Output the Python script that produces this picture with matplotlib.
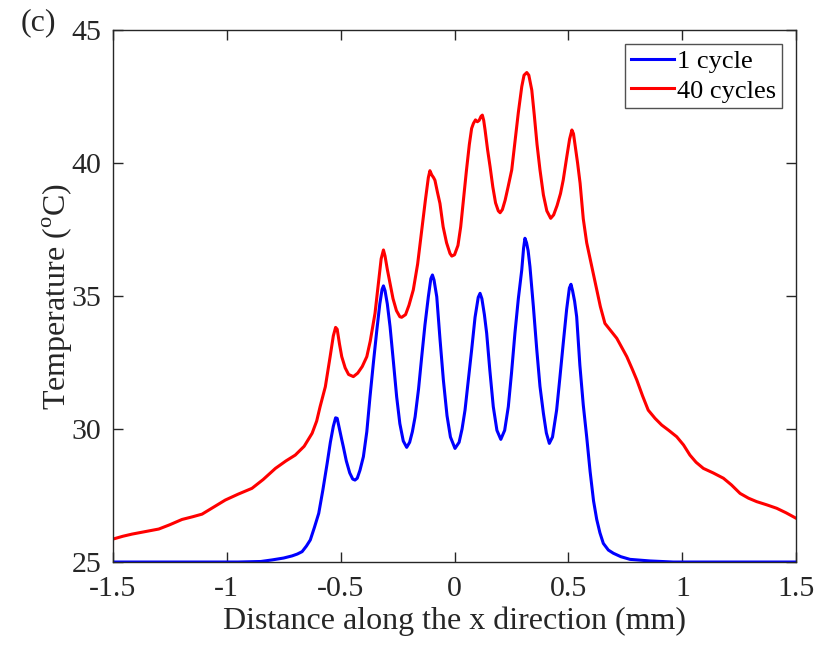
import matplotlib
matplotlib.use('Agg')
import matplotlib.pyplot as plt

plt.rcParams['font.family'] = ['Liberation Serif', 'DejaVu Serif']
plt.rcParams['mathtext.fontset'] = 'custom'
plt.rcParams['mathtext.rm'] = 'Liberation Serif'
plt.rcParams['axes.unicode_minus'] = False

# temperature profile after 1 cycle
x_1 = [-1.5, -0.95, -0.85, -0.8, -0.75, -0.713, -0.69, -0.669, -0.65, -0.633,
       -0.615, -0.596, -0.578, -0.559, -0.545, -0.532, -0.522, -0.515, -0.505, -0.495,
       -0.488, -0.475, -0.46, -0.447, -0.437, -0.427, -0.415, -0.4, -0.385, -0.371,
       -0.356, -0.341, -0.328, -0.318, -0.312, -0.305, -0.295, -0.283, -0.268, -0.254,
       -0.24, -0.225, -0.21, -0.197, -0.185, -0.173, -0.158, -0.144, -0.13, -0.115,
       -0.104, -0.097, -0.09, -0.078, -0.064, -0.049, -0.033, -0.018, 0.002, 0.02,
       0.033, 0.046, 0.06, 0.075, 0.09, 0.104, 0.112, 0.12, 0.131, 0.141,
       0.155, 0.17, 0.186, 0.203, 0.22, 0.236, 0.25, 0.265, 0.28, 0.295,
       0.303, 0.309, 0.316, 0.323, 0.331, 0.346, 0.361, 0.375, 0.39, 0.403,
       0.416, 0.43, 0.448, 0.462, 0.477, 0.492, 0.504, 0.511, 0.518, 0.527,
       0.536, 0.55, 0.565, 0.58, 0.595, 0.61, 0.624, 0.638, 0.653, 0.675,
       0.697, 0.73, 0.77, 0.858, 0.96, 1.5]
t_1 = [25.0, 25.0, 25.02, 25.08, 25.15, 25.23, 25.3, 25.39, 25.6, 25.83,
       26.3, 26.83, 27.7, 28.71, 29.5, 30.1, 30.42, 30.4, 30.0, 29.6,
       29.33, 28.8, 28.35, 28.12, 28.08, 28.15, 28.45, 28.96, 29.9, 31.21,
       32.5, 33.72, 34.7, 35.25, 35.38, 35.2, 34.7, 33.85, 32.5, 31.21,
       30.2, 29.55, 29.31, 29.5, 29.9, 30.46, 31.5, 32.72, 33.9, 34.97,
       35.65, 35.79, 35.6, 34.97, 33.4, 31.84, 30.5, 29.7, 29.27, 29.5,
       30.0, 30.71, 31.8, 32.97, 34.2, 34.95, 35.1, 34.9, 34.3, 33.6,
       32.2, 30.84, 29.95, 29.61, 29.95, 30.84, 32.1, 33.6, 34.9, 35.98,
       36.8, 37.17, 37.0, 36.7, 36.1, 34.6, 32.97, 31.6, 30.59, 29.85,
       29.46, 29.7, 30.71, 31.9, 33.22, 34.5, 35.3, 35.44, 35.2, 34.8,
       34.22, 32.4, 30.9, 29.7, 28.4, 27.3, 26.6, 26.1, 25.7, 25.45,
       25.33, 25.2, 25.1, 25.04, 25.0, 25.0]

# temperature profile after 40 cycles
x_40 = [-1.5, -1.455, -1.415, -1.36, -1.298, -1.25, -1.196, -1.15, -1.108, -1.06,
        -1.006, -0.95, -0.889, -0.84, -0.786, -0.74, -0.699, -0.66, -0.625, -0.605,
        -0.59, -0.567, -0.546, -0.532, -0.522, -0.515, -0.505, -0.495, -0.48, -0.465,
        -0.444, -0.425, -0.405, -0.385, -0.37, -0.349, -0.335, -0.322, -0.312, -0.305,
        -0.295, -0.283, -0.27, -0.255, -0.24, -0.232, -0.215, -0.2, -0.181, -0.162,
        -0.144, -0.128, -0.115, -0.108, -0.1, -0.092, -0.086, -0.075, -0.064, -0.05,
        -0.035, -0.02, -0.012, 0.0, 0.015, 0.027, 0.039, 0.052, 0.065, 0.075,
        0.083, 0.092, 0.1, 0.108, 0.116, 0.122, 0.128, 0.134, 0.145, 0.156,
        0.168, 0.18, 0.192, 0.2, 0.21, 0.222, 0.235, 0.251, 0.265, 0.28,
        0.295, 0.305, 0.317, 0.326, 0.333, 0.339, 0.35, 0.362, 0.375, 0.39,
        0.405, 0.422, 0.435, 0.45, 0.465, 0.477, 0.492, 0.505, 0.515, 0.522,
        0.53, 0.54, 0.551, 0.565, 0.58, 0.595, 0.61, 0.624, 0.64, 0.66,
        0.685, 0.712, 0.735, 0.756, 0.78, 0.8, 0.825, 0.85, 0.88, 0.909,
        0.94, 0.975, 1.005, 1.033, 1.06, 1.092, 1.135, 1.18, 1.215, 1.253,
        1.29, 1.326, 1.37, 1.414, 1.455, 1.5]
t_40 = [25.86, 25.97, 26.05, 26.14, 26.24, 26.4, 26.6, 26.7, 26.8, 27.05,
        27.33, 27.55, 27.77, 28.1, 28.52, 28.8, 29.02, 29.35, 29.84, 30.3,
        30.84, 31.59, 32.72, 33.5, 33.82, 33.75, 33.2, 32.72, 32.3, 32.05,
        31.97, 32.1, 32.35, 32.72, 33.3, 34.35, 35.4, 36.4, 36.73, 36.5,
        36.0, 35.48, 34.9, 34.45, 34.22, 34.2, 34.3, 34.65, 35.23, 36.2,
        37.48, 38.6, 39.45, 39.71, 39.55, 39.45, 39.35, 38.9, 38.48, 37.6,
        37.0, 36.6, 36.5, 36.55, 36.9, 37.6, 38.6, 39.7, 40.7, 41.3,
        41.49, 41.62, 41.55, 41.6, 41.75, 41.8, 41.6, 41.24, 40.5, 39.86,
        39.1, 38.5, 38.2, 38.13, 38.25, 38.6, 39.1, 39.74, 40.8, 41.9,
        42.87, 43.3, 43.4, 43.3, 43.0, 42.74, 41.8, 40.7, 39.74, 38.8,
        38.2, 37.92, 38.05, 38.4, 38.85, 39.36, 40.2, 40.9, 41.24, 41.1,
        40.6, 40.0, 39.24, 37.9, 37.0, 36.4, 35.8, 35.23, 34.6, 33.97,
        33.7, 33.41, 33.05, 32.72, 32.25, 31.84, 31.25, 30.71, 30.4, 30.15,
        29.95, 29.71, 29.4, 29.02, 28.75, 28.52, 28.35, 28.15, 27.9, 27.58,
        27.4, 27.27, 27.15, 27.02, 26.85, 26.64]

x_ticks = [-1.5, -1, -0.5, 0, 0.5, 1, 1.5]
x_labels = ['-1.5', '-1', '-0.5', '0', '0.5', '1', '1.5']
y_ticks = [25, 30, 35, 40, 45]

fig = plt.figure(figsize=(8.17, 6.46), dpi=100)
ax = fig.add_axes([0.138, 0.130, 0.8367, 0.8236])

ax.plot(x_1, t_1, color='#0000ff', lw=2.2, label='1 cycle')
ax.plot(x_40, t_40, color='#ff0000', lw=2.2, label='40 cycles')

ax.set_xlim(-1.5, 1.5)
ax.set_ylim(25, 45)
ax.set_xticks(x_ticks)
ax.set_xticklabels(x_labels)
ax.set_yticks(y_ticks)
ax.tick_params(direction='in', length=7, width=1, top=True, right=True,
               labelsize=21.5, colors='#262626')
ax.tick_params(axis='x', pad=10)
ax.tick_params(axis='y', pad=8)
for s in ax.spines.values():
    s.set_color('#262626')
    s.set_linewidth(1)

ax.set_xlabel('Distance along the x direction (mm)', fontsize=23, color='#262626', labelpad=3)
ax.set_ylabel('Temperature ($^{\\rm o}$C)', fontsize=23, color='#262626', labelpad=-2)

leg = ax.legend(loc='upper right', fontsize=19, frameon=True, fancybox=False,
                edgecolor='#262626', borderpad=0.2, handlelength=1.65,
                handletextpad=0.12, labelspacing=0.22, borderaxespad=0.55)
leg.get_frame().set_linewidth(1)

fig.text(0.025, 0.965, '(c)', fontsize=23, color='#262626', va='center', ha='left')

fig.savefig('out.png', dpi=100)
